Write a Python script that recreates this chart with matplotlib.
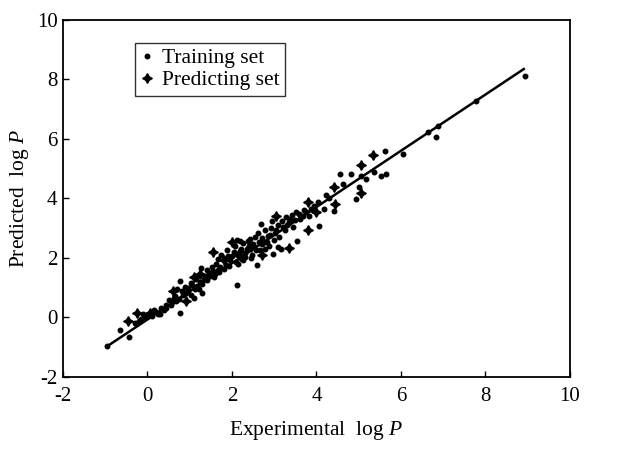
import numpy as np
import matplotlib
matplotlib.use('Agg')
import matplotlib.pyplot as plt


# training set (experimental, predicted)
train_x = [-0.95, -0.64, -0.43, -0.30, -0.15, -0.05, 0.02, 0.10, 0.19, 0.25,
           0.31, 0.38, 0.43, 0.50, 0.55, 0.62, 0.68, 0.71, 0.78, 0.78,
           0.85, 0.90, 0.95, 1.02, 1.02, 1.09, 1.14, 1.18, 1.21, 1.26,
           1.30, 1.30, 1.35, 1.40, 1.49, 1.55, 1.62, 1.66, 1.72, 1.85,
           1.90, 1.96, 2.05, 2.10, 2.13, 2.13, 2.20, 2.22, 2.27, 2.32,
           2.37, 2.40, 2.51, 2.55, 2.60, 2.63, 2.67, 2.68, 2.75, 2.79,
           2.85, 2.91, 2.96, 2.98, 3.05, 3.08, 3.15, 3.20, 3.27, 3.35,
           3.42, 3.50, 3.55, 3.58, 3.63, 3.70, 3.82, 3.95, 4.03, 4.05,
           4.17, 4.22, 4.30, 4.41, 4.57, 4.64, 4.81, 4.93, 5.00, 5.05,
           5.17, 5.36, 5.52, 5.64, 5.62, 6.04, 6.64, 6.82, 6.87, 7.77,
           8.93,
           0.58, 0.66, 0.74, 0.82, 0.88, 0.97, 1.06, 1.12, 1.24, 1.33,
           1.45, 1.52, 1.60, 1.68, 1.75, 1.82, 1.88, 1.93, 2.00, 2.08,
           2.15, 2.18, 2.25, 2.30, 2.35, 2.42, 2.48, 2.53, 2.58, 2.62,
           2.70, 2.72, 2.78, 2.82, 2.88, 2.93, 3.00, 3.02, 3.10, 3.12,
           3.18, 3.25, 3.30, 3.38, 3.45, 3.52, 3.60, 3.68, 3.75, 3.88,
           1.40, 1.57, 1.70, 2.12, 2.45, 0.30, 0.45, 0.15, -0.10, -0.20]
train_y = [-0.97, -0.42, -0.65, -0.20, -0.05, 0.02, 0.06, 0.05, 0.19, 0.12,
           0.32, 0.25, 0.42, 0.58, 0.40, 0.65, 0.55, 0.97, 0.16, 1.23,
           0.75, 0.81, 1.00, 1.16, 0.74, 0.65, 1.29, 1.05, 0.97, 1.65,
           1.13, 0.81, 1.40, 1.25, 1.39, 1.55, 1.80, 1.58, 1.70, 1.75,
           2.05, 1.94, 2.20, 1.85, 1.10, 2.13, 2.58, 2.30, 1.94, 2.15,
           2.58, 2.40, 2.45, 2.70, 1.77, 2.55, 2.26, 3.13, 2.52, 2.29,
           2.75, 2.77, 3.23, 2.13, 2.95, 2.35, 2.29, 3.05, 3.39, 3.20,
           3.45, 3.26, 2.58, 3.48, 3.42, 3.60, 3.42, 3.75, 3.87, 3.06,
           3.65, 4.13, 4.00, 3.58, 4.81, 4.50, 4.81, 3.97, 4.39, 4.77,
           4.65, 4.90, 4.77, 4.81, 5.58, 5.48, 6.23, 6.06, 6.45, 7.29,
           8.13,
           0.50, 0.72, 0.62, 0.90, 1.02, 0.88, 1.10, 0.95, 1.20, 1.28,
           1.48, 1.70, 1.45, 1.95, 2.10, 1.62, 2.28, 1.72, 2.05, 2.40,
           1.78, 2.22, 2.50, 2.02, 2.30, 2.62, 2.10, 2.38, 2.25, 2.85,
           2.45, 2.68, 2.95, 2.55, 2.40, 3.00, 2.60, 2.85, 3.10, 2.70,
           3.25, 2.95, 3.10, 3.30, 3.05, 3.55, 3.30, 3.40, 3.55, 3.65,
           1.60, 1.35, 1.52, 2.60, 2.00, 0.12, 0.30, 0.25, 0.10, -0.12]

# predicting set
pred_x = [-0.45, -0.24, 0.05, 0.60, 0.90, 1.10, 1.25, 1.56, 1.80, 2.01,
          2.20, 2.44, 2.70, 3.05, 3.34, 3.79, 3.79, 4.00, 4.41, 4.45,
          5.05, 5.05, 5.33]
pred_y = [-0.13, 0.16, 0.15, 0.90, 0.55, 1.35, 1.45, 2.19, 1.94, 2.52,
          2.05, 2.35, 2.10, 3.40, 2.32, 2.94, 3.87, 3.55, 4.39, 3.81,
          5.13, 4.19, 5.45]

# fitted line end points
fit_x = [-0.92, 8.91]
fit_y = [-0.94, 8.35]

ticks = [-2, 0, 2, 4, 6, 8, 10]


def plot():
    plt.rcParams['font.family'] = 'Liberation Serif'
    plt.rcParams['mathtext.fontset'] = 'custom'
    plt.rcParams['mathtext.rm'] = 'Liberation Serif'
    plt.rcParams['mathtext.it'] = 'Liberation Serif:italic'
    plt.rcParams['axes.unicode_minus'] = False

    fig = plt.figure(figsize=(6.18, 4.54), dpi=100)
    ax = fig.add_axes([0.102, 0.170, 0.820, 0.786])

    ax.plot(fit_x, fit_y, 'k-', lw=1.8)
    ax.plot(train_x, train_y, 'k.', ms=6.5, ls='none', label='Training set')
    ax.plot(pred_x, pred_y, marker=(4, 1, 0), color='k', ms=7, ls='none',
            label='Predicting set')

    ax.set_xlim(-2, 10)
    ax.set_ylim(-2, 10)
    ax.set_xticks(ticks)
    ax.set_yticks(ticks)
    ax.tick_params(direction='in', length=4, width=1, labelsize=15)
    ax.tick_params(axis='x', pad=7)
    ax.tick_params(axis='y', pad=4)
    for s in ax.spines.values():
        s.set_linewidth(1.3)

    ax.set_xlabel('Experimental  log $P$', fontsize=15.5, labelpad=10)
    ax.set_ylabel('Predicted  log $P$', fontsize=15.5, labelpad=4)

    leg = ax.legend(loc='upper left', bbox_to_anchor=(0.142, 0.936),
                    borderaxespad=0, fontsize=15.5, frameon=True,
                    fancybox=False, handlelength=0.6, handletextpad=0.4,
                    borderpad=0.25, labelspacing=0.1, numpoints=1)
    leg.get_frame().set_edgecolor('k')
    leg.get_frame().set_linewidth(1.0)

    fig.savefig('out.png', dpi=100)


def main():
    plot()


if __name__ == "__main__":
    main()
